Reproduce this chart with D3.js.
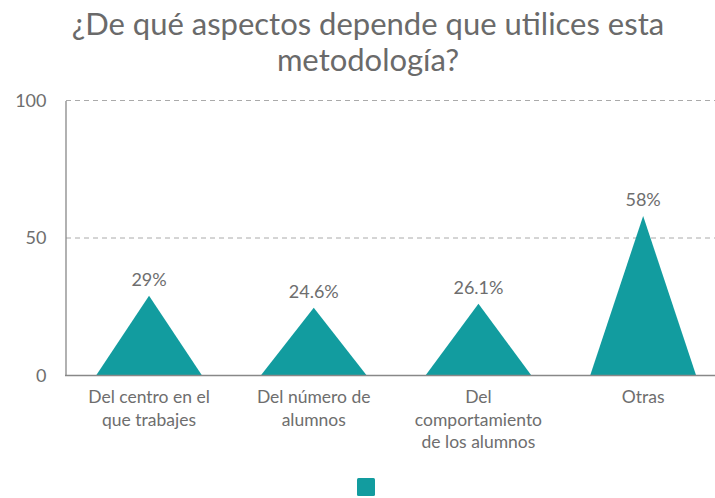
<!DOCTYPE html>
<html><head><meta charset="utf-8">
<script src="https://cdn.jsdelivr.net/npm/d3@7"></script>
<style>
body{margin:0;background:#fff;}
text{font-family:Lato,"Open Sans",sans-serif;}
</style></head>
<body>
<svg id="c" width="715" height="498"></svg>
<script>
const categories = [["Del centro en el","que trabajes"],["Del número de","alumnos"],["Del","comportamiento","de los alumnos"],["Otras"]];
const values = [29, 24.6, 26.1, 58];
const valueLabels = ["29%","24.6%","26.1%","58%"];
const yTicks = [0, 50, 100];
const titleLines = ["¿De qué aspectos depende que utilices esta","metodología?"];

const svg = d3.select("#c");
const teal = "#129c9f";
const txt = "#6e6e6e";

const x = d3.scaleBand().domain(d3.range(categories.length)).range([66.7, 725.5]).padding(0);
const y = d3.scaleLinear().domain([0,100]).range([375.5,100.5]);

// title
svg.append("text").attr("x",368).attr("text-anchor","middle").attr("fill","#6a6a6a")
  .style("font-size","31px")
  .selectAll("tspan").data(titleLines).join("tspan")
  .attr("x",368).attr("y",(d,i)=>35+i*36).text(d=>d);

// grid lines
svg.append("g").selectAll("line").data(yTicks.filter(t=>t>0)).join("line")
  .attr("x1",66).attr("x2",715).attr("y1",d=>y(d)).attr("y2",d=>y(d))
  .attr("stroke","#aaa").attr("stroke-dasharray","5,4").attr("stroke-width",1);

// y axis
const yAxis = d3.axisLeft(y).tickValues(yTicks).tickSize(0).tickPadding(19);
const gy = svg.append("g").attr("transform","translate(65.5,0)").call(yAxis);
gy.select(".domain").attr("stroke","#888").attr("stroke-width",1.3);
gy.selectAll("text").attr("fill",txt).style("font-size","18px").style("font-family","Lato");

// triangles
const halfW = 53;
svg.append("g").selectAll("path").data(values).join("path")
  .attr("d",(d,i)=>{const cx=x(i)+x.bandwidth()/2;return `M${cx-halfW},${y(0)}L${cx},${y(d)}L${cx+halfW},${y(0)}Z`;})
  .attr("fill",teal);

// baseline
svg.append("line").attr("x1",65).attr("x2",715).attr("y1",y(0)).attr("y2",y(0))
  .attr("stroke","#888").attr("stroke-width",1.3);

// value labels
svg.append("g").selectAll("text").data(values).join("text")
  .attr("x",(d,i)=>x(i)+x.bandwidth()/2).attr("y",d=>y(d)-10)
  .attr("text-anchor","middle").attr("fill",txt).style("font-size","18px")
  .text((d,i)=>valueLabels[i]);

// category labels
const xg = svg.append("g");
categories.forEach((lines,i)=>{
  const t = xg.append("text").attr("text-anchor","middle").attr("fill",txt).style("font-size","17.5px");
  t.selectAll("tspan").data(lines).join("tspan")
   .attr("x",x(i)+x.bandwidth()/2).attr("y",(d,j)=>403+j*22.5).text(d=>d);
});

// legend
svg.append("rect").attr("x",357).attr("y",478).attr("width",18).attr("height",18).attr("rx",1.5).attr("fill",teal);
</script>
</body></html>
